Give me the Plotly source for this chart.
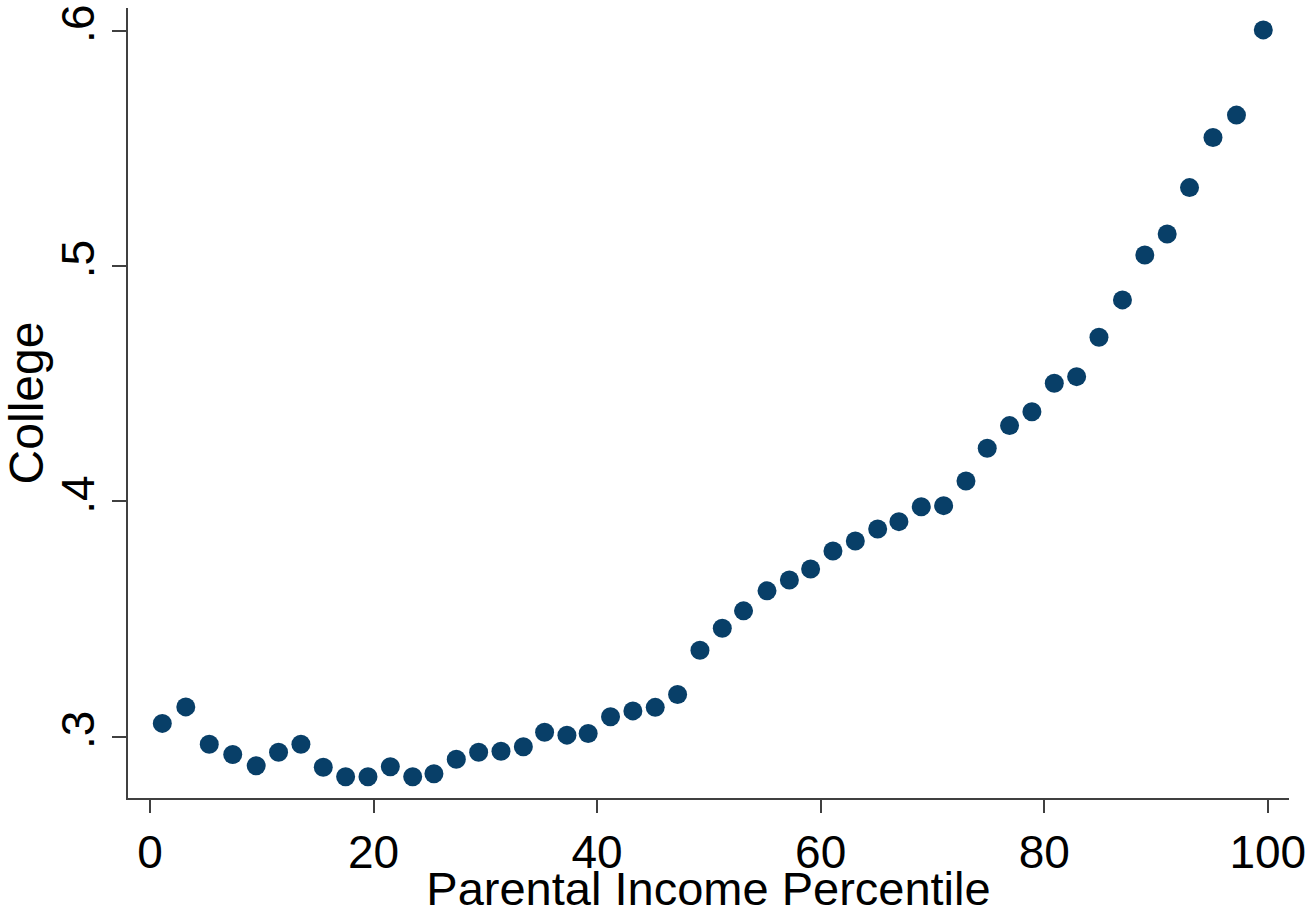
import plotly.graph_objects as go

# Binned scatter: college attendance rate by parental income percentile
percentile = [1.1, 3.2, 5.3, 7.4, 9.5, 11.5, 13.5, 15.5, 17.5, 19.5,
              21.5, 23.5, 25.4, 27.4, 29.4, 31.4, 33.4, 35.3, 37.3, 39.2,
              41.2, 43.2, 45.2, 47.2, 49.2, 51.2, 53.1, 55.2, 57.2, 59.1,
              61.1, 63.1, 65.1, 67.0, 69.0, 71.0, 73.0, 74.9, 76.9, 78.9,
              80.9, 82.9, 84.9, 87.0, 89.0, 91.0, 93.0, 95.1, 97.2, 99.6]
college = [0.3057, 0.3127, 0.2968, 0.2925, 0.2877, 0.2934, 0.2968, 0.2871, 0.2830, 0.2830,
           0.2873, 0.2830, 0.2843, 0.2905, 0.2934, 0.2939, 0.2958, 0.3019, 0.3007, 0.3014,
           0.3085, 0.3110, 0.3125, 0.3180, 0.3368, 0.3461, 0.3535, 0.3620, 0.3666, 0.3713,
           0.3789, 0.3832, 0.3883, 0.3914, 0.3977, 0.3982, 0.4087, 0.4226, 0.4322, 0.4381,
           0.4502, 0.4530, 0.4697, 0.4856, 0.5047, 0.5136, 0.5333, 0.5546, 0.5641, 0.6003]

x_ticks = [0, 20, 40, 60, 80, 100]
x_tick_text = ["0", "20", "40", "60", "80", "100"]
y_ticks = [0.3, 0.4, 0.5, 0.6]
y_tick_text = [".3", ".4", ".5", ".6"]

MARKER = "#083f68"
AXIS = "#404040"
TEXT_FONT = "Liberation Sans, Arial, sans-serif"

fig = go.Figure(
    go.Scatter(
        x=percentile,
        y=college,
        mode="markers",
        marker=dict(size=19, color=MARKER, line=dict(width=0)),
        showlegend=False,
    )
)

fig.update_layout(
    width=1311,
    height=915,
    margin=dict(l=128, r=22, t=8, b=117),
    paper_bgcolor="white",
    plot_bgcolor="white",
    font=dict(family=TEXT_FONT, color="black"),
)

fig.update_xaxes(
    range=[-1.97, 101.9],
    automargin=False,
    tickvals=x_ticks,
    ticktext=x_tick_text,
    ticklabeloverflow="allow",
    showgrid=False,
    zeroline=False,
    showline=True,
    linecolor=AXIS,
    linewidth=2,
    ticks="outside",
    ticklen=13,
    tickwidth=2,
    tickcolor=AXIS,
    tickfont=dict(family=TEXT_FONT, size=46, color="black"),
    title=dict(text="Parental Income Percentile",
               font=dict(family=TEXT_FONT, size=47, color="black"),
               standoff=6),
)

fig.update_yaxes(
    range=[0.274, 0.6096],
    automargin=False,
    tickvals=y_ticks,
    ticktext=y_tick_text,
    tickangle=-90,
    ticklabeloverflow="allow",
    showgrid=False,
    zeroline=False,
    showline=True,
    linecolor=AXIS,
    linewidth=2,
    ticks="outside",
    ticklen=14,
    tickwidth=2,
    tickcolor=AXIS,
    tickfont=dict(family=TEXT_FONT, size=46, color="black"),
    title=dict(text="College",
               font=dict(family=TEXT_FONT, size=48, color="black"),
               standoff=7),
)

fig.write_html("out.html")
